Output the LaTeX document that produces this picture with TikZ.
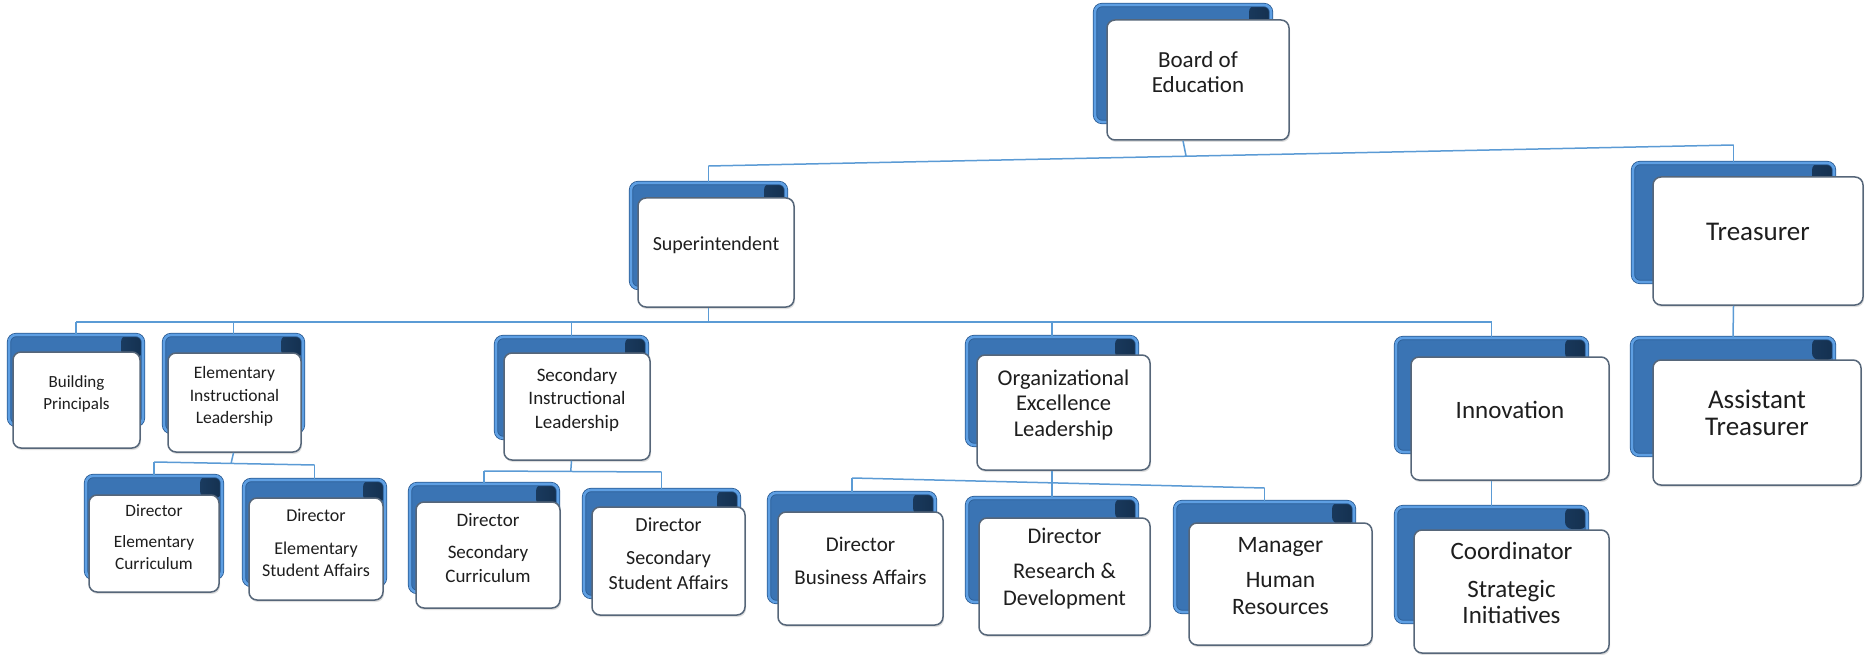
\documentclass[tikz,border=0pt]{standalone}
\usepackage{fontspec}
\setmainfont{Carlito}
\usetikzlibrary{fit,calc,shadows}
\definecolor{linkblue}{HTML}{5B9BD5}
\definecolor{bbfill}{HTML}{3A74B4}
\definecolor{bbedge}{HTML}{2A5C94}
\definecolor{bbrim}{HTML}{5E9FE3}
\definecolor{bbnavy}{HTML}{14304F}
\definecolor{fbedge}{HTML}{566679}
\definecolor{txt}{HTML}{1E1E1E}
\tikzset{
  backbox/.style={rounded corners=7pt, draw=bbedge, line width=0.8pt,
    double=bbrim, double distance=2.6pt, fill=bbfill, inner sep=0pt,
    path picture={
      \fill[left color=bbfill, right color=bbnavy]
        ([xshift=-22pt]path picture bounding box.north east) rectangle
        ([yshift=-22pt]path picture bounding box.north east);
    }},
  frontbox/.style={rounded corners=8pt, draw=fbedge, line width=1.5pt,
    fill=white, inner sep=0pt, align=center, text=txt,
    drop shadow={opacity=0.25, shadow xshift=1pt, shadow yshift=-2pt}},
  link/.style={draw=linkblue, line width=1.5pt},
}
\begin{document}
\begin{tikzpicture}[x=1pt, y=-1pt]
\fill[white] (0,0) rectangle (1869,655);
\useasboundingbox (0,0) rectangle (1869,655);

% back boxes
\node[backbox, fit={(1095,5)(1271,122)}] (board) {};
\node[backbox, fit={(631,183)(786,288)}] (sup) {};
\node[backbox, fit={(1633,163)(1834,282)}] (tre) {};
\node[backbox, fit={(9,335)(143,425)}] (bp) {};
\node[backbox, fit={(164,335)(303,432)}] (eil) {};
\node[backbox, fit={(496,337)(647,438)}] (sil) {};
\node[backbox, fit={(967,337)(1137,445)}] (oel) {};
\node[backbox, fit={(1396,338)(1587,452)}] (inn) {};
\node[backbox, fit={(1632,338)(1834,455)}] (ast) {};
\node[backbox, fit={(86,476)(222,578)}] (dec) {};
\node[backbox, fit={(244,480)(385,585)}] (desa) {};
\node[backbox, fit={(410,484)(558,592)}] (dsc) {};
\node[backbox, fit={(584,490)(739,597)}] (dssa) {};
\node[backbox, fit={(769,493)(935,602)}] (dba) {};
\node[backbox, fit={(967,498)(1137,602)}] (drd) {};
\node[backbox, fit={(1175,502)(1354,612)}] (mhr) {};
\node[backbox, fit={(1396,507)(1587,622)}] (csi) {};

% front boxes
\node[frontbox, fit={(1107,20)(1289,140)}, font=\fontsize{23}{25}\selectfont] (board-f) {Board of\\Education};
\node[frontbox, fit={(638,198)(794,307)}, font=\fontsize{20}{24}\selectfont] (sup-f) {Superintendent};
\node[frontbox, fit={(1653,177)(1863,305)}, font=\fontsize{27}{32}\selectfont] (tre-f) {Treasurer};
\node[frontbox, fit={(13,352)(140,448)}, font=\fontsize{17}{22}\selectfont] (bp-f) {Building\\Principals};
\node[frontbox, fit={(168,353)(301,452)}, font=\fontsize{17.5}{22.5}\selectfont] (eil-f) {Elementary\\Instructional\\Leadership};
\node[frontbox, fit={(504,353)(650,460)}, font=\fontsize{19}{23.5}\selectfont] (sil-f) {Secondary\\Instructional\\Leadership};
\node[frontbox, fit={(977,355)(1150,470)}, font=\fontsize{22.5}{25.5}\selectfont] (oel-f) {Organizational\\Excellence\\Leadership};
\node[frontbox, fit={(1411,357)(1609,480)}, font=\fontsize{25}{30}\selectfont] (inn-f) {Innovation};
\node[frontbox, fit={(1653,360)(1861,485)}, font=\fontsize{27}{27}\selectfont] (ast-f) {Assistant\\Treasurer};
\node[frontbox, fit={(89,495)(219,592)}, font=\fontsize{17.3}{22}\selectfont] (dec-f) {Director\\[9pt]Elementary\\Curriculum};
\node[frontbox, fit={(249,498)(383,600)}, font=\fontsize{18}{22}\selectfont] (desa-f) {Director\\[11pt]Elementary\\Student Affairs};
\node[frontbox, fit={(416,502)(560,608)}, font=\fontsize{19}{24}\selectfont] (dsc-f) {Director\\[8pt]Secondary\\Curriculum};
\node[frontbox, fit={(592,507)(745,615)}, font=\fontsize{20}{25}\selectfont] (dssa-f) {Director\\[8pt]Secondary\\Student Affairs};
\node[frontbox, fit={(778,512)(943,625)}, font=\fontsize{21}{25}\selectfont] (dba-f) {Director\\[8pt]Business Affairs};
\node[frontbox, fit={(979,518)(1150,635)}, font=\fontsize{22.4}{27}\selectfont] (drd-f) {Director\\[8pt]Research \&\\Development};
\node[frontbox, fit={(1189,523)(1372,645)}, font=\fontsize{23.5}{27}\selectfont] (mhr-f) {Manager\\[8pt]Human\\Resources};
\node[frontbox, fit={(1414,530)(1609,653)}, font=\fontsize{25}{26}\selectfont] (csi-f) {Coordinator\\[12pt]Strategic\\Initiatives};

% connectors
% Board -> Superintendent, Treasurer
\coordinate (b1) at (sup.north |- 0,166);
\coordinate (b2) at (tre.north |- 0,145);
\draw[link] (b1) -- (b2);
\draw[link] (board-f.south -| board.north) -- ($(b1)!(board.north)!(b2)$);
\draw[link] (b1) -- (sup.north);
\draw[link] (b2) -- (tre.north);
% Superintendent -> level 2
\coordinate (s1) at (bp.north |- 0,322);
\coordinate (s2) at (inn.north |- 0,322);
\draw[link] (s1) -- (s2);
\draw[link] (sup-f.south -| sup.north) -- (sup.north |- s1);
\foreach \c in {bp,eil,sil,oel,inn} \draw[link] (\c.north |- s1) -- (\c.north);
% Elementary -> directors
\coordinate (e1) at (dec.north |- 0,462);
\coordinate (e2) at (desa.north |- 0,465);
\draw[link] (e1) -- (e2);
\draw[link] (eil-f.south -| eil.north) -- ($(e1)!(eil.north)!(e2)$);
\draw[link] (e1) -- (dec.north);
\draw[link] (e2) -- (desa.north);
% Secondary -> directors
\coordinate (c1) at (dsc.north |- 0,471);
\coordinate (c2) at (dssa.north |- 0,472);
\draw[link] (c1) -- (c2);
\draw[link] (sil-f.south -| sil.north) -- ($(c1)!(sil.north)!(c2)$);
\draw[link] (c1) -- (dsc.north);
\draw[link] (c2) -- (dssa.north);
% Organizational -> three
\coordinate (o1) at (dba.north |- 0,478);
\coordinate (o2) at (mhr.north |- 0,488);
\draw[link] (o1) -- (o2);
\draw[link] (oel-f.south -| oel.north) -- (drd.north);
\draw[link] (o1) -- (dba.north);
\draw[link] (o2) -- (mhr.north);
% Innovation -> Coordinator, Treasurer -> Assistant
\draw[link] (inn-f.south -| inn.north) -- (csi.north);
\draw[link] (tre-f.south -| tre.north) -- (ast.north);
\end{tikzpicture}
\end{document}
